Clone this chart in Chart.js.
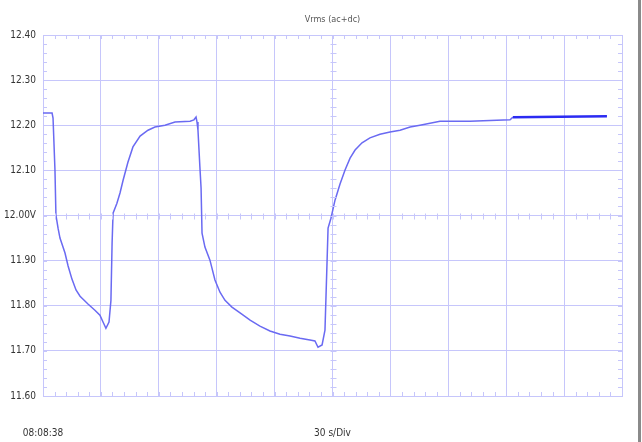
<!DOCTYPE html>
<html>
<head>
<meta charset="utf-8">
<script src="https://cdn.jsdelivr.net/npm/chart.js@4.4.1/dist/chart.umd.min.js"></script>
<style>
  html, body { margin: 0; padding: 0; background: #fff; }
  #wrap { width: 638px; height: 442px; border-right: 3px solid #8a8a8a; }
</style>
</head>
<body>
<div id="wrap"><canvas id="scope" width="638" height="442"></canvas></div>
<script>
/* Scope trace: Vrms (ac+dc), 30 s/Div */

const title = 'Vrms (ac+dc)';
const startLabel = '08:08:38';
const divLabel = '30 s/Div';

// seconds from start
const times = [
  0, 4.7, 5.2, 6.2, 6.7, 7.8, 8.8, 11.4, 13.0, 15.0, 17.1, 19.2, 23.3, 26.9, 29.5, 31.1, 32.6,
  34.2, 35.2, 35.8, 36.3, 38.3, 39.9, 41.5, 44.0, 46.6, 50.3, 54.4, 58.0, 63.2, 68.4, 76.2, 78.2,
  79.3, 79.8, 80.3, 81.3, 81.9, 82.4, 83.9, 86.5, 89.1, 91.7, 94.3, 97.9, 102.1, 107.3, 112.4,
  117.6, 122.8, 128.0, 133.2, 138.3, 140.9, 142.5, 144.6, 146.1, 147.2, 147.7, 149.2, 151.3,
  153.9, 156.5, 159.1, 161.7, 165.3, 169.4, 174.6, 179.8, 185.0, 190.2, 195.3, 205.7, 221.2,
  242.0, 243.5, 292.2
];

// volts
const volts = [
  12.227, 12.227, 12.216, 12.101, 12.001, 11.972, 11.950, 11.917, 11.888, 11.859, 11.835, 11.821,
  11.804, 11.790, 11.779, 11.764, 11.750,
  11.764, 11.812, 11.939, 12.005, 12.027, 12.050, 12.078, 12.118, 12.152, 12.176, 12.189, 12.196,
  12.200, 12.207, 12.209, 12.212,
  12.218, 12.207, 12.189, 12.107, 12.061, 11.961, 11.930, 11.901, 11.857, 11.830, 11.812, 11.797,
  11.784, 11.768, 11.755,
  11.744, 11.737, 11.733, 11.728, 11.724, 11.722, 11.708, 11.713, 11.746, 11.901, 11.972, 11.994,
  12.034,
  12.070, 12.101, 12.127, 12.145, 12.161, 12.172, 12.180, 12.185, 12.189, 12.196, 12.200, 12.209,
  12.209,
  12.212, 12.218, 12.220
];

const gridColor = '#c6c6fb';
const fontFamily = '"DejaVu Sans Condensed", "Liberation Sans", sans-serif';
const labelFont = { family: fontFamily, size: 10 };

// small graticule marks along the border and the centre lines, 5 per division
const graticule = {
  id: 'graticule',
  afterDraw(chart) {
    const { ctx, chartArea: a, scales: { x, y } } = chart;
    const cx = Math.round(x.getPixelForValue(150)) + 0.5;
    const cy = Math.round(y.getPixelForValue(12.0)) + 0.5;
    ctx.save();
    ctx.strokeStyle = gridColor;
    ctx.lineWidth = 1;
    ctx.beginPath();
    for (let t = 0; t <= 300; t += 6) {
      const px = Math.round(x.getPixelForValue(t)) + 0.5;
      ctx.moveTo(px, cy - 3); ctx.lineTo(px, cy + 3);
      ctx.moveTo(px, a.top); ctx.lineTo(px, a.top + 4);
      ctx.moveTo(px, a.bottom); ctx.lineTo(px, a.bottom - 4);
    }
    for (let i = 0; i <= 40; i++) {
      const py = Math.round(y.getPixelForValue(11.6 + i * 0.02)) + 0.5;
      ctx.moveTo(cx - 3, py); ctx.lineTo(cx + 3, py);
      ctx.moveTo(a.left, py); ctx.lineTo(a.left + 4, py);
      ctx.moveTo(a.right, py); ctx.lineTo(a.right - 4, py);
    }
    ctx.stroke();
    ctx.fillStyle = '#555';
    ctx.font = '9px ' + fontFamily;
    ctx.textAlign = 'center';
    ctx.textBaseline = 'middle';
    ctx.fillText(title, (a.left + a.right) / 2, 20);
    ctx.restore();
  }
};

new Chart(document.getElementById('scope'), {
  type: 'line',
  data: {
    datasets: [{
      data: times.map((t, i) => ({ x: t, y: volts[i] })),
      borderColor: '#6a6af2',
      borderWidth: 1.5,
      pointRadius: 0,
      tension: 0,
      segment: {
        borderColor: c => c.p0.parsed.x >= 243 ? '#2b2bf2' : '#6a6af2',
        borderWidth: c => c.p0.parsed.x >= 243 ? 2.5 : 1.5
      }
    }]
  },
  options: {
    responsive: false,
    animation: false,
    layout: { padding: { top: 35, right: 16, left: 0, bottom: 0 } },
    scales: {
      x: {
        type: 'linear',
        min: 0,
        max: 300,
        afterFit: s => { s.height = 46; s.paddingLeft = 0; s.paddingRight = 0; },
        grid: { color: gridColor, drawTicks: false },
        border: { color: gridColor },
        ticks: {
          stepSize: 30,
          autoSkip: false,
          maxRotation: 0,
          padding: 31,
          color: '#333',
          font: labelFont,
          callback: v => v === 0 ? startLabel : v === 150 ? divLabel : ''
        }
      },
      y: {
        min: 11.6,
        max: 12.4,
        afterFit: s => { s.width = 43; },
        grid: { color: gridColor, drawTicks: false },
        border: { color: gridColor },
        ticks: {
          stepSize: 0.1,
          padding: 7,
          color: '#333',
          font: labelFont,
          callback: v => Math.abs(v - 12) < 1e-6 ? '12.00V' : Number(v).toFixed(2)
        }
      }
    },
    plugins: {
      legend: { display: false },
      tooltip: { enabled: false }
    }
  },
  plugins: [graticule]
});
</script>
</body>
</html>
